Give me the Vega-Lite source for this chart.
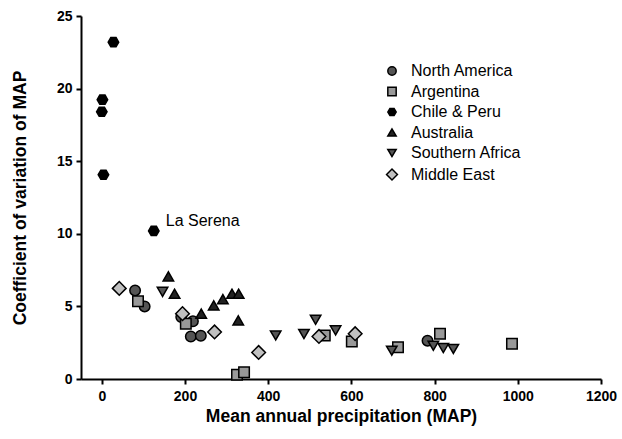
{
  "$schema": "https://vega.github.io/schema/vega-lite/v6.json",
  "width": 520,
  "height": 363,
  "autosize": {"type": "none"},
  "padding": {"left": 81, "top": 16, "right": 21, "bottom": 60},
  "background": "white",
  "config": {
    "view": {"stroke": null},
    "font": "Liberation Sans",
    "axis": {
      "grid": false,
      "domainColor": "black",
      "domainWidth": 2,
      "tickColor": "black",
      "tickWidth": 2,
      "tickSize": 5,
      "labelFont": "Liberation Sans",
      "labelFontWeight": "bold",
      "labelFontSize": 14,
      "labelColor": "black",
      "labelFlush": false,
      "titleFont": "Liberation Sans",
      "titleFontWeight": "bold",
      "titleFontSize": 17.5,
      "titleColor": "black"
    },
    "legend": {
      "symbolStrokeColor": "black",
      "symbolStrokeWidth": 1.5,
      "labelFont": "Liberation Sans",
      "labelFontSize": 16,
      "labelColor": "black"
    }
  },
  "data": {
    "values": [
      {"region": "North America", "map": 80, "cv": 6.1},
      {"region": "North America", "map": 103, "cv": 5.0},
      {"region": "North America", "map": 191, "cv": 4.27},
      {"region": "North America", "map": 219, "cv": 3.97},
      {"region": "North America", "map": 214, "cv": 2.93},
      {"region": "North America", "map": 238, "cv": 2.98},
      {"region": "North America", "map": 783, "cv": 2.64},
      {"region": "Argentina", "map": 87, "cv": 5.35},
      {"region": "Argentina", "map": 202, "cv": 3.8},
      {"region": "Argentina", "map": 325, "cv": 0.3},
      {"region": "Argentina", "map": 342, "cv": 0.46},
      {"region": "Argentina", "map": 536, "cv": 3.0},
      {"region": "Argentina", "map": 601, "cv": 2.59},
      {"region": "Argentina", "map": 712, "cv": 2.18},
      {"region": "Argentina", "map": 813, "cv": 3.12},
      {"region": "Argentina", "map": 986, "cv": 2.43},
      {"region": "Chile & Peru", "map": 28, "cv": 23.2},
      {"region": "Chile & Peru", "map": 1.5, "cv": 19.24},
      {"region": "Chile & Peru", "map": 0, "cv": 18.4},
      {"region": "Chile & Peru", "map": 4, "cv": 14.07},
      {"region": "Chile & Peru", "map": 125, "cv": 10.2, "label": "La Serena"},
      {"region": "Australia", "map": 160, "cv": 7.07},
      {"region": "Australia", "map": 175, "cv": 5.87},
      {"region": "Australia", "map": 239, "cv": 4.5},
      {"region": "Australia", "map": 269, "cv": 5.07},
      {"region": "Australia", "map": 291, "cv": 5.5},
      {"region": "Australia", "map": 313, "cv": 5.87},
      {"region": "Australia", "map": 329, "cv": 5.87},
      {"region": "Australia", "map": 328, "cv": 4.04},
      {"region": "Southern Africa", "map": 146, "cv": 6.0},
      {"region": "Southern Africa", "map": 418, "cv": 3.0},
      {"region": "Southern Africa", "map": 486, "cv": 3.1},
      {"region": "Southern Africa", "map": 514, "cv": 4.08},
      {"region": "Southern Africa", "map": 562, "cv": 3.35},
      {"region": "Southern Africa", "map": 697, "cv": 1.95},
      {"region": "Southern Africa", "map": 797, "cv": 2.29},
      {"region": "Southern Africa", "map": 821, "cv": 2.13},
      {"region": "Southern Africa", "map": 845, "cv": 2.07},
      {"region": "Middle East", "map": 42, "cv": 6.24},
      {"region": "Middle East", "map": 194, "cv": 4.5},
      {"region": "Middle East", "map": 271, "cv": 3.24},
      {"region": "Middle East", "map": 377, "cv": 1.83},
      {"region": "Middle East", "map": 522, "cv": 2.93},
      {"region": "Middle East", "map": 609, "cv": 3.12}
    ]
  },
  "encoding": {
    "x": {
      "field": "map", "type": "quantitative",
      "scale": {"domain": [-50, 1200], "nice": false, "zero": false},
      "axis": {"values": [0, 200, 400, 600, 800, 1000, 1200], "format": "d", "title": "Mean annual precipitation (MAP)", "titlePadding": 4, "labelPadding": 5}
    },
    "y": {
      "field": "cv", "type": "quantitative",
      "scale": {"domain": [0, 25], "nice": false},
      "axis": {"values": [0, 5, 10, 15, 20, 25], "format": "d", "title": "Coefficient of variation of MAP", "titlePadding": 27, "labelPadding": 4}
    }
  },
  "layer": [
    {
      "mark": {"type": "point", "filled": true, "stroke": "black", "strokeWidth": 1.5, "size": 110, "opacity": 1},
      "encoding": {
        "shape": {
          "field": "region", "type": "nominal",
          "scale": {
            "domain": ["North America", "Argentina", "Chile & Peru", "Australia", "Southern Africa", "Middle East"],
            "range": ["circle", "square", "M-1,0L-0.5,-0.866L0.5,-0.866L1,0L0.5,0.866L-0.5,0.866Z", "triangle-up", "triangle-down", "M-1.3,0L0,-1.3L1.3,0L0,1.3Z"]
          },
          "legend": {"title": null, "orient": "none", "legendX": 303, "legendY": 47, "symbolSize": 70, "rowPadding": 4.5, "labelOffset": 11}
        },
        "color": {
          "field": "region", "type": "nominal",
          "scale": {
            "domain": ["North America", "Argentina", "Chile & Peru", "Australia", "Southern Africa", "Middle East"],
            "range": ["#555555", "#999999", "#000000", "#222222", "#555555", "#c0c0c0"]
          },
          "legend": {"title": null, "orient": "none", "legendX": 303, "legendY": 47, "symbolSize": 70, "rowPadding": 4.5, "labelOffset": 11}
        }
      }
    },
    {
      "transform": [{"filter": "datum.label != null"}],
      "mark": {"type": "text", "align": "left", "baseline": "middle", "dx": 12, "dy": -10, "fontSize": 16, "font": "Liberation Sans", "color": "black"},
      "encoding": {"text": {"field": "label"}}
    }
  ]
}
